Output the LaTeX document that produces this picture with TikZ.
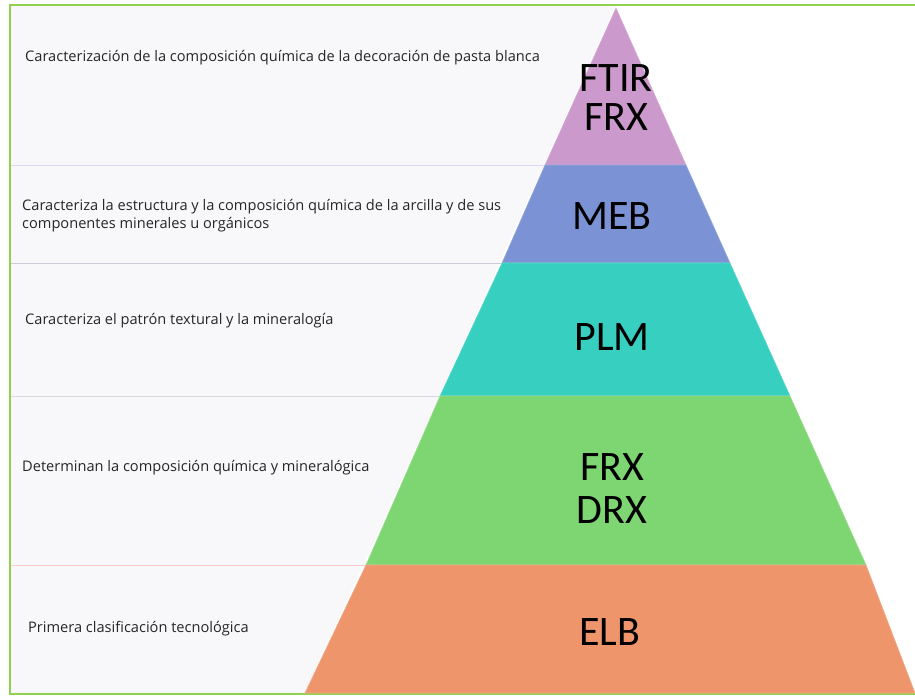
\documentclass[tikz,border=0pt]{standalone}
\usepackage{fontspec}
\setmainfont{Open Sans}
\newfontfamily\tierfont{Carlito}
\usetikzlibrary{positioning}

\definecolor{frameG}{RGB}{146,208,80}
\definecolor{panelG}{RGB}{248,248,250}
\definecolor{tierA}{RGB}{204,153,204}
\definecolor{tierB}{RGB}{123,147,212}
\definecolor{tierC}{RGB}{54,207,192}
\definecolor{tierD}{RGB}{126,214,114}
\definecolor{tierE}{RGB}{238,149,107}

\begin{document}
\begin{tikzpicture}[
  x=1pt, y=-1pt,
  every node/.style={font=\fontsize{14.6}{18}\selectfont, text=black!85},
  caption/.style={anchor=west, align=left, inner sep=0pt},
  tier/.style={font=\tierfont\fontsize{42}{39}\selectfont, text=black,
               align=center, inner sep=0pt},
  band/.style={fill=#1, draw=#1!80!white, line width=0.6pt},
  sep/.style={line width=0.9pt},
]
  \useasboundingbox (0,0) rectangle (915,696);

  % ── Left panel and frame ─────────────────────────
  \fill[panelG] (10,5) -- (616,5) -- (305,693) -- (10,693) -- cycle;
  \draw[sep, black!20!blue!15]   (10,165) -- (545,165);
  \draw[sep, blue!25!black!20]   (10,263) -- (502,263);
  \draw[sep, black!15]           (10,396) -- (440,396);
  \draw[sep, red!20]             (10,565) -- (366,565);
  \draw[frameG, line width=1.6pt] (915,5) -- (10,5) -- (10,694) -- (915,694);

  % ── Pyramid tiers (top to bottom) ────────────────
  \draw[band=tierA] (616,8)  -- (686,165) -- (545,165) -- cycle;
  \draw[band=tierB] (545,165) -- (686,165) -- (730,263) -- (502,263) -- cycle;
  \draw[band=tierC] (502,263) -- (730,263) -- (790,396) -- (440,396) -- cycle;
  \draw[band=tierD] (440,396) -- (790,396) -- (866,565) -- (366,565) -- cycle;
  \draw[band=tierE] (366,565) -- (866,565) -- (915,693) -- (305,693) -- cycle;

  % ── Tier labels ──────────────────────────────────
  \node[tier] (ftir) at (616,98)  {FTIR\\FRX};
  \node[tier] (meb)  at (612,216) {MEB};
  \node[tier] (plm)  at (612,337) {PLM};
  \node[tier, font=\tierfont\fontsize{42}{43}\selectfont] (frx) at (612,489) {FRX\\DRX};
  \node[tier] (elb)  at (610,632) {ELB};

  % ── Descriptions ─────────────────────────────────
  \node[caption] (capA) at (25,58)
    {Caracterización de la composición química de la decoración de pasta blanca};
  \node[caption] (capB) at (22,216)
    {Caracteriza la estructura y la composición química de la arcilla y de sus\\componentes minerales u orgánicos};
  \node[caption] (capC) at (25,321) {Caracteriza el patrón textural y la mineralogía};
  \node[caption] (capD) at (22,468) {Determinan la composición química y mineralógica};
  \node[caption] (capE) at (28,629) {Primera clasificación tecnológica};

\end{tikzpicture}
\end{document}
